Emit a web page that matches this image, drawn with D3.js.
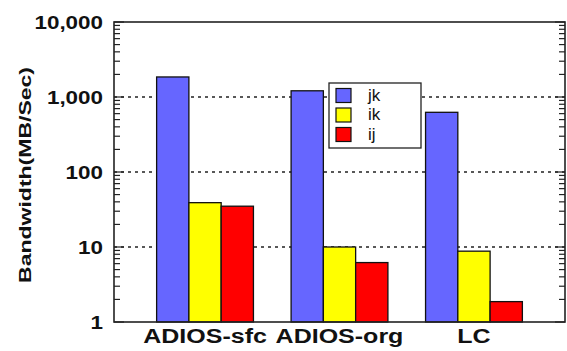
<!DOCTYPE html>
<html lang="en">
<head>
  <meta charset="utf-8" />
  <script src="https://d3js.org/d3.v7.min.js"></script>
  <style>
    body { margin: 0; background: #fff; }
    text { font-family: "Liberation Sans", Arial, sans-serif; }
  </style>
</head>
<body>
<script>
  // data
  var groups = ["ADIOS-sfc", "ADIOS-org", "LC"];
  var series = ["jk", "ik", "ij"];
  var colors = ["#6666ff", "#ffff00", "#ff0000"];
  var jk = [1850, 1210, 625];
  var ik = [39, 10, 8.8];
  var ij = [35, 6.2, 1.87];
  var yTicks = [1, 10, 100, 1000, 10000];

  var values = [jk, ik, ij];
  var width = 567, height = 351;
  var pL = 114, pR = 565, pT = 22, pB = 322;

  var svg = d3.select("body").append("svg")
    .attr("width", width)
    .attr("height", height);

  var x = d3.scaleBand().domain(groups).range([pL, pR])
    .paddingInner(0.28).paddingOuter(0.317);
  var xs = d3.scaleBand().domain(series).range([0, x.bandwidth()]);
  var y = d3.scaleLog().domain([1, 10000]).range([pB, pT]);

  // grid lines
  svg.selectAll("line.grid")
    .data([10, 100, 1000])
    .enter().append("line")
    .attr("x1", pL).attr("x2", pR)
    .attr("y1", function(d) { return y(d); })
    .attr("y2", function(d) { return y(d); })
    .attr("stroke", "#222")
    .attr("stroke-width", 1.3)
    .attr("stroke-dasharray", "3,4");

  // bars
  var g = svg.selectAll("g.group")
    .data(groups)
    .enter().append("g")
    .attr("transform", function(d) { return "translate(" + x(d) + ",0)"; });

  g.selectAll("rect")
    .data(function(d, i) {
      return series.map(function(s, j) { return {s: s, v: values[j][i], c: colors[j]}; });
    })
    .enter().append("rect")
    .attr("x", function(d) { return xs(d.s); })
    .attr("width", xs.bandwidth())
    .attr("y", function(d) { return y(d.v); })
    .attr("height", function(d) { return pB - y(d.v); })
    .attr("fill", function(d) { return d.c; })
    .attr("stroke", "#111")
    .attr("stroke-width", 1.3);

  // log ticks, inward on both sides
  var ticks = [];
  for (var p = 1; p < 10000; p *= 10) {
    for (var m = 2; m <= 9; m++) ticks.push({v: p * m, major: false});
  }
  yTicks.forEach(function(v) { ticks.push({v: v, major: true}); });

  [[pL, 1], [pR, -1]].forEach(function(side) {
    svg.selectAll(null)
      .data(ticks)
      .enter().append("line")
      .attr("x1", side[0])
      .attr("x2", function(d) { return side[0] + side[1] * (d.major ? 10 : 6); })
      .attr("y1", function(d) { return y(d.v); })
      .attr("y2", function(d) { return y(d.v); })
      .attr("stroke", "#222")
      .attr("stroke-width", 1.2);
  });

  // frame
  svg.append("rect")
    .attr("x", pL).attr("y", pT)
    .attr("width", pR - pL).attr("height", pB - pT)
    .attr("fill", "none")
    .attr("stroke", "#222")
    .attr("stroke-width", 1.6);

  // y tick labels
  svg.selectAll("g.ylab")
    .data(yTicks)
    .enter().append("g")
    .attr("transform", function(d) { return "translate(103," + (y(d) + 7) + ") scale(1.18,1)"; })
    .append("text")
    .attr("text-anchor", "end")
    .attr("font-size", 19)
    .attr("font-weight", "bold")
    .attr("fill", "#111")
    .text(function(d) { return d3.format(",")(d); });

  // x labels
  svg.selectAll("g.xlab")
    .data(groups)
    .enter().append("g")
    .attr("transform", function(d) { return "translate(" + (x(d) + x.bandwidth() / 2) + ",343) scale(1.22,1)"; })
    .append("text")
    .attr("text-anchor", "middle")
    .attr("font-size", 20.5)
    .attr("font-weight", "bold")
    .attr("fill", "#111")
    .text(function(d) { return d; });

  // y title
  svg.append("text")
    .attr("transform", "translate(31,175) rotate(-90)")
    .attr("text-anchor", "middle")
    .attr("font-size", 17)
    .attr("font-weight", "bold")
    .attr("fill", "#111")
    .attr("textLength", 216)
    .attr("lengthAdjust", "spacingAndGlyphs")
    .text("Bandwidth(MB/Sec)");

  // legend
  var lg = svg.append("g").attr("transform", "translate(329,83)");
  lg.append("rect")
    .attr("width", 92).attr("height", 65)
    .attr("fill", "#fff")
    .attr("stroke", "#222")
    .attr("stroke-width", 1.3);
  var row = lg.selectAll("g.row")
    .data(series)
    .enter().append("g")
    .attr("transform", function(d, i) { return "translate(7," + (5.5 + i * 19.5) + ")"; });
  row.append("rect")
    .attr("width", 15).attr("height", 14)
    .attr("fill", function(d, i) { return colors[i]; })
    .attr("stroke", "#111")
    .attr("stroke-width", 1.2);
  row.append("text")
    .attr("x", 32).attr("y", 12)
    .attr("font-size", 17)
    .attr("fill", "#111")
    .text(function(d) { return d; });
</script>
</body>
</html>
